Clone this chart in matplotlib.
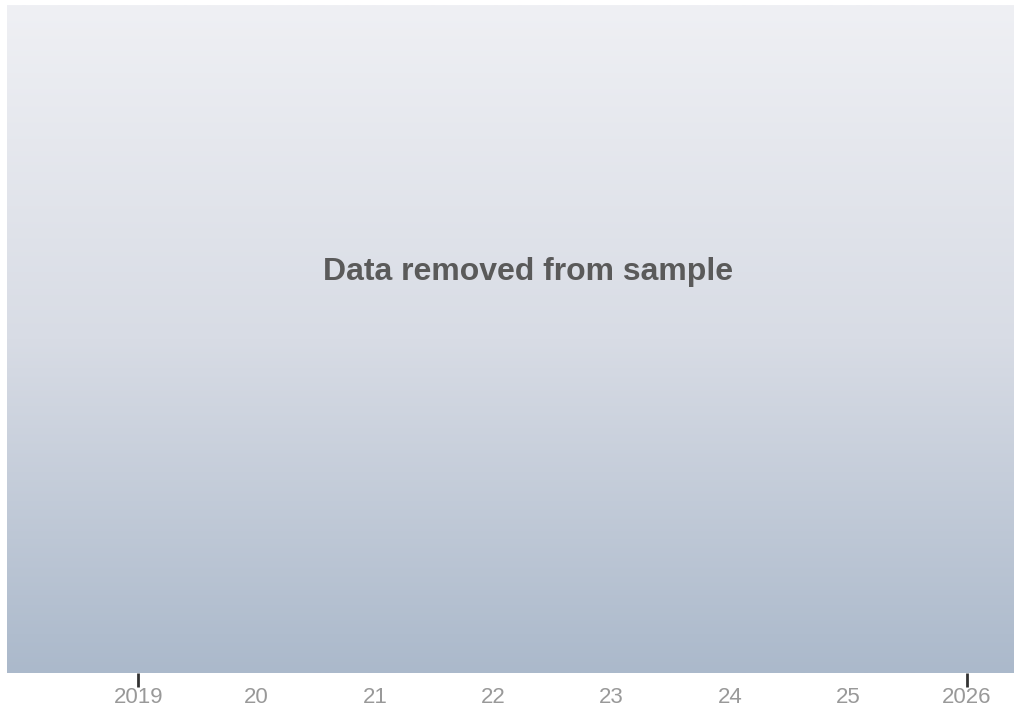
import numpy as np
import matplotlib
matplotlib.use("Agg")
import matplotlib.pyplot as plt
from matplotlib.colors import LinearSegmentedColormap

# axis data
years = [2019, 2020, 2021, 2022, 2023, 2024, 2025, 2026]
year_labels = ["2019", "20", "21", "22", "23", "24", "25", "2026"]
edge_years = [2019, 2026]
x_min, x_max = 2017.89, 2026.40
message = "Data removed from sample"

plt.rcParams['font.family'] = ['Liberation Sans', 'DejaVu Sans']

fig = plt.figure(figsize=(10.14, 7.13), dpi=100)
ax = fig.add_axes([7 / 1014, 40 / 713, 1007 / 1014, 668 / 713])

# vertical gradient background
cmap = LinearSegmentedColormap.from_list("bg", ["#abb9cb", "#d8dce5", "#eff0f4"])
grad = np.linspace(0, 1, 256).reshape(-1, 1)
ax.imshow(grad, aspect="auto", cmap=cmap, origin="lower",
          extent=[0, 1, 0, 1], transform=ax.transAxes, zorder=0)

ax.set_xlim(x_min, x_max)
ax.set_ylim(0, 1)
ax.xaxis.remove_overlapping_locs = False
ax.set_xticks(years)
ax.set_xticklabels(year_labels)
ax.tick_params(axis="x", which="major", length=0, pad=10, labelsize=16, labelcolor="#999999")
ax.set_xticks(edge_years, minor=True)
ax.tick_params(axis="x", which="minor", length=10, width=2, color="#333333", direction="out")
ax.set_yticks([])
for s in ax.spines.values():
    s.set_visible(False)

ax.text(0.517, 0.601, message, transform=ax.transAxes, ha="center", va="center",
        fontsize=23, fontweight="bold", color="#5a5a5a")

fig.savefig("out.png", dpi=100)
